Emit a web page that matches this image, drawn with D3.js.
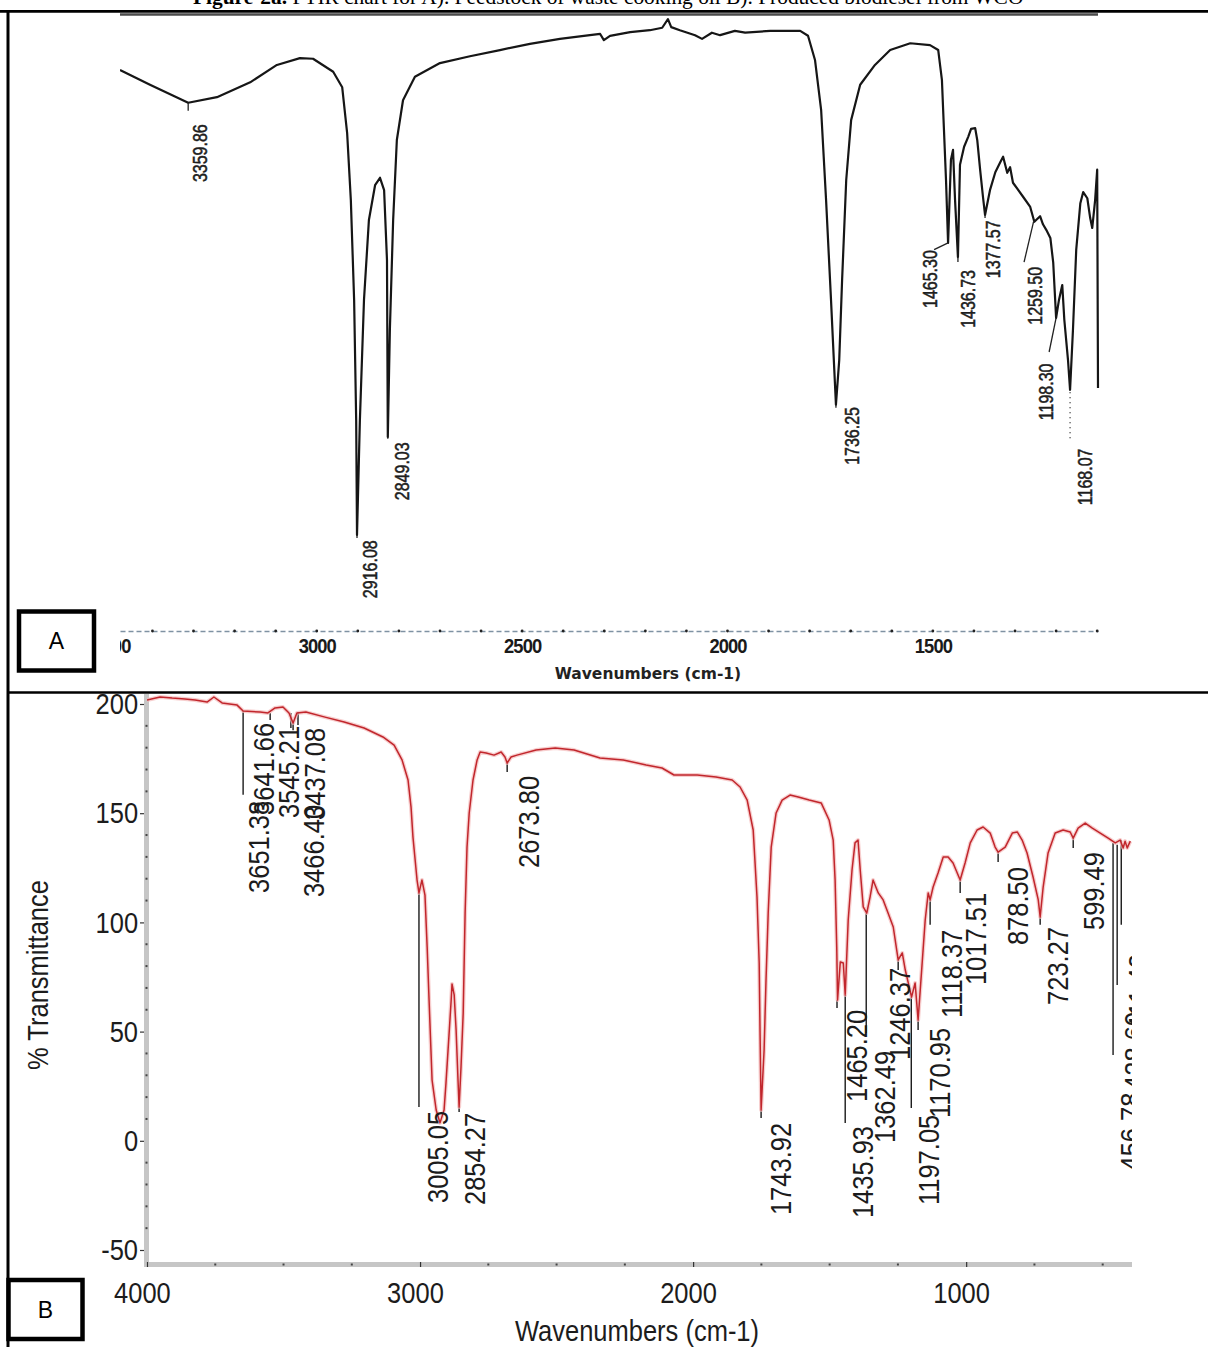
<!DOCTYPE html>
<html lang="en">
<head>
<meta charset="UTF-8">
<title>FTIR chart: feedstock WCO and biodiesel</title>
<script src="https://d3js.org/d3.v7.min.js"></script>
<style>
  body { margin: 0; background: #fff; }
  svg { display: block; }
</style>
</head>
<body>
<svg id="fig"></svg>
<script>
// ---- panel A: feedstock (waste cooking oil) ----
const waveA = [3479,3406,3313,3243,3162,3097,3041,3009,2960,2938,
  2926,2917,2909,2904,2902,2895,2885,2873,2858,2846,
  2836,2829,2827,2822,2814,2805,2790,2761,2700,2627,
  2554,2481,2408,2335,2310,2301,2286,2237,2189,2159,
  2145,2137,2116,2079,2062,2038,2018,1982,1957,1896,
  1823,1804,1787,1772,1760,1748,1740,1736,1728,1721,
  1711,1699,1677,1641,1604,1555,1507,1487,1478,1473,
  1468,1463,1456,1451,1446,1439,1434,1424,1414,1407,
  1397,1392,1385,1378,1373,1361,1348,1336,1329,1319,
  1312,1305,1280,1263,1253,1239,1232,1224,1214,1207,
  1200,1193,1185,1180,1171,1166,1159,1151,1141,1134,
  1124,1117,1112,1105,1100,1098];
const transA = [90.5,88.1,85.2,86.1,88.5,91.3,92.4,92.3,90.2,87.7,
  80.3,69.5,53.4,34.0,15.5,34.0,53.4,66.3,71.9,73.1,
  71.1,59.8,31.3,48.5,66.3,79.2,85.6,89.4,91.6,92.7,
  93.7,94.7,95.5,96.1,96.3,95.3,96.0,96.6,96.9,97.3,
  98.7,97.4,96.9,96.1,95.5,96.5,96.1,96.8,96.5,96.8,
  96.8,96.0,92.1,84.0,69.5,53.4,42.1,36.5,43.7,56.6,
  72.7,82.4,88.1,91.3,93.7,94.8,94.5,93.7,88.9,80.8,
  72.7,62.6,76.0,77.6,69.5,60.3,75.2,78.1,79.7,81.0,
  81.1,79.2,74.4,70.0,67.1,71.1,74.0,75.6,76.5,73.9,
  74.8,72.3,70.0,68.4,66.0,66.9,65.6,64.7,63.4,59.4,
  50.5,53.4,55.8,50.2,43.7,38.9,48.5,61.5,69.0,70.8,
  69.8,66.6,65.0,69.5,74.4,39.2];
const ticksA = [3500, 3000, 2500, 2000, 1500];
// label, leader from (w,T) to (w,T), text column wavenumber, text start T
const peaksA = [
  ["3359.86", 3313, 85.2, 3313, 83.9, 3284, 72.4],
  ["2916.08", 2902, 15.5, 2902, 15.0, 2870, 5.3],
  ["2849.03", 2827, 31.3, 2827, 31.0, 2792, 21.1],
  ["1736.25", 1736, 36.5, 1736, 36.0, 1697, 26.8],
  ["1465.30", 1463, 62.6, 1497, 61.5, 1507, 52.1],
  ["1436.73", 1439, 60.3, 1439, 59.5, 1414, 48.9],
  ["1377.57", 1373, 67.1, 1373, 66.6, 1353, 56.9],
  ["1259.50", 1255, 66.0, 1278, 59.5, 1251, 49.4],
  ["1198.30", 1200, 50.5, 1217, 45.0, 1224, 34.0],
  ["1168.07", 1166, 38.5, 1166, 30.5, 1129, 20.3]
];

// ---- panel B: produced biodiesel ----
const waveB = [4000,3952,3908,3861,3824,3780,3755,3725,3670,3648,
  3586,3557,3531,3502,3480,3465,3451,3418,3348,3278,
  3205,3136,3095,3066,3044,3033,3026,3011,3004,2993,
  2982,2974,2967,2956,2941,2927,2912,2905,2894,2886,
  2883,2875,2868,2861,2857,2850,2842,2835,2828,2820,
  2806,2791,2780,2758,2729,2703,2689,2681,2667,2645,
  2575,2505,2436,2341,2256,2172,2114,2070,1985,1916,
  1857,1828,1802,1780,1766,1758,1755,1751,1740,1733,
  1725,1714,1696,1674,1645,1615,1575,1531,1502,1487,
  1480,1474,1471,1461,1450,1443,1432,1418,1407,1396,
  1388,1377,1364,1352,1341,1322,1304,1286,1267,1249,
  1234,1223,1212,1200,1187,1176,1163,1150,1139,1132,
  1121,1103,1084,1066,1048,1022,1004,985,960,938,
  912,894,883,857,831,813,795,777,755,736,
  729,718,700,674,645,619,608,590,564,538,
  509,480,454,436,425,418,410,399];
const transB = [201.8,203.2,202.7,202.3,201.8,200.9,203.2,200.5,199.5,196.8,
  196.3,195.9,198.2,198.6,195.9,191.3,195.9,196.3,194.0,191.8,
  189.0,184.9,181.2,174.4,165.2,152.8,139.1,119.4,113.5,119.4,
  112.5,88.7,64.5,27.8,14.1,8.2,14.1,26.5,48.4,64.5,
  71.8,66.8,50.7,27.8,15.5,33.8,58.5,104.3,134.5,150.1,
  165.2,174.4,178.0,177.6,176.6,178.0,175.7,173.0,175.7,176.6,
  178.9,179.9,178.9,175.3,174.4,172.1,170.7,167.5,167.5,166.6,
  165.2,162.0,156.0,142.3,111.6,81.4,50.7,14.1,41.6,73.6,
  104.3,134.5,150.1,156.0,158.3,157.4,156.0,154.7,146.9,137.7,
  119.4,88.7,64.5,81.9,81.4,66.8,101.1,124.0,136.4,137.7,
  124.0,107.1,104.3,111.6,119.4,113.5,110.3,104.3,97.9,82.8,
  86.0,78.2,72.3,65.8,72.3,55.3,78.2,101.1,113.5,110.3,
  116.2,122.6,129.9,129.9,127.2,119.4,127.2,136.4,142.3,143.7,
  140.9,134.5,132.2,134.5,140.9,141.4,137.7,131.8,120.8,110.3,
  102.5,116.2,131.8,140.9,142.3,141.4,138.6,143.2,145.5,143.2,
  140.9,138.6,136.4,137.7,134.1,137.2,134.1,137.2];
const xTicksB = [4000, 3000, 2000, 1000];
const yTicksB = [-50, 0, 50, 100, 150, 200];
const peaksB = [
  ["3651.38", 3648, 196.8, 3648, 158.4, 3593, 113.5],
  ["3641.66", 3549, 195.9, 3549, 192.7, 3575, 149.2],
  ["3545.21", 3473, 195.9, 3473, 189.0, 3484, 147.8],
  ["3466.40", 3465, 191.3, 3465, 188.0, 3392, 111.6],
  ["3437.08", 3447, 196.3, 3447, 190.4, 3388, 146.9],
  ["2673.80", 2681, 173.0, 2681, 168.9, 2604, 124.9],
  ["3005.05", 3004, 113.5, 3004, 15.5, 2938, -28.5],
  ["2854.27", 2857, 15.5, 2857, 13.2, 2802, -29.4],
  ["1743.92", 1751, 14.1, 1751, 10.4, 1681, -34.0],
  ["1465.20", 1473, 64.5, 1473, 60.8, 1403, 17.8],
  ["1435.93", 1443, 66.8, 1443, 8.1, 1381, -35.4],
  ["1362.49", 1366, 104.3, 1366, 49.4, 1300, -1.0],
  ["1246.37", 1249, 82.8, 1249, 78.2, 1245, 37.0],
  ["1197.05", 1201, 65.8, 1201, 15.0, 1139, -29.4],
  ["1170.95", 1176, 55.3, 1176, 50.7, 1099, 10.4],
  ["1118.37", 1132, 110.3, 1132, 98.9, 1055, 56.2],
  ["1017.51", 1022, 119.4, 1022, 113.5, 967, 71.3],
  ["878.50", 883, 132.2, 883, 127.6, 813, 89.6],
  ["723.27", 729, 102.5, 729, 98.9, 667, 62.2],
  ["599.49", 608, 138.6, 608, 134.1, 535, 96.5],
  ["456.78", 462, 136.4, 462, 39.3, 399, -13.6],
  ["428.60", 447, 135.5, 447, 71.3, 384, 23.3],
  ["411.42", 432, 137.7, 432, 98.9, 370, 50.7]
];

const W = 1208, H = 1347;
const svg = d3.select("#fig").attr("width", W).attr("height", H);
const defs = svg.append("defs");

// caption, cut off by the page top as in the source
const cap = svg.append("text")
  .attr("x", 193).attr("y", 4)
  .style("font-family", "'Liberation Serif', 'Times New Roman', serif")
  .style("font-size", "21.4px");
cap.append("tspan").style("font-weight", "bold").text("Figure-2a.");
cap.append("tspan").text(" FTIR chart for A). Feedstock of waste cooking oil B). Produced biodiesel from WCO");

// vertical text helper (reads bottom to top)
function vText(g, x, y, txt, sx) {
  return g.append("text")
    .attr("transform", `translate(${x},${y}) rotate(-90) scale(${sx},1)`)
    .attr("dy", "0.36em")
    .text(txt);
}

// ================= panel A =================
const xA = d3.scaleLinear().domain([3479, 1098]).range([120, 1098]);
const yA = d3.scaleLinear().domain([0, 100]).range([631, 11]);

defs.append("clipPath").attr("id", "clipA")
  .append("rect").attr("x", 120).attr("y", 12).attr("width", 980).attr("height", 678);

const gA = svg.append("g").attr("clip-path", "url(#clipA)");

gA.append("line")
  .attr("x1", 120).attr("x2", 1098).attr("y1", 14.5).attr("y2", 14.5)
  .attr("stroke", "#4a4a4a").attr("stroke-width", 2.5);

const axA = gA.append("g")
  .attr("transform", "translate(0,631)")
  .call(d3.axisBottom(xA).tickValues(ticksA).tickSize(0).tickPadding(8).tickFormat(d3.format("d")));
axA.select(".domain")
  .attr("stroke", "#7f92a3").attr("stroke-width", 1.4).attr("stroke-dasharray", "5,3");
axA.selectAll("text")
  .attr("transform", "scale(0.92,1)")
  .attr("fill", "#1a1a1a")
  .style("font-family", "'Liberation Sans', Arial, sans-serif")
  .style("font-size", "20px").style("font-weight", "bold")
  .style("letter-spacing", "-1px");

gA.selectAll(".dotA")
  .data(d3.range(3400, 1099, -100))
  .join("circle")
  .attr("cx", d => xA(d)).attr("cy", 631).attr("r", 1.4)
  .attr("fill", "#222");

gA.append("text")
  .attr("x", 648).attr("y", 679)
  .attr("text-anchor", "middle")
  .attr("fill", "#222")
  .style("font-family", "'DejaVu Sans', Verdana, sans-serif")
  .style("font-size", "15.5px").style("font-weight", "bold")
  .text("Wavenumbers (cm-1)");

const lineA = d3.line().x(d => xA(d[0])).y(d => yA(d[1]));
gA.append("path")
  .datum(waveA.map((w, i) => [w, transA[i]]))
  .attr("d", lineA)
  .attr("fill", "none").attr("stroke", "#161616")
  .attr("stroke-width", 2.2).attr("stroke-linejoin", "round");

const labA = gA.append("g")
  .attr("fill", "#1e1e1e")
  .attr("stroke", "#1e1e1e").attr("stroke-width", 0.5)
  .style("font-family", "'Liberation Sans', Arial, sans-serif")
  .style("font-size", "20px");
peaksA.forEach(p => {
  gA.append("line")
    .attr("x1", xA(p[1])).attr("y1", yA(p[2]))
    .attr("x2", xA(p[3])).attr("y2", yA(p[4]))
    .attr("stroke", "#222").attr("stroke-width", 1.3)
    .attr("stroke-dasharray", p[0] === "1168.07" ? "1,4" : null);
  vText(labA, xA(p[5]), yA(p[6]), p[0], 0.8);
});

// ================= panel B =================
const xB = d3.scaleLinear().domain([4000, 400]).range([147, 1130]);
const yB = d3.scaleLinear().domain([-50, 200]).range([1250, 704]);

const fontB = "'Liberation Sans', Arial, sans-serif";

// axis bars
svg.append("line").attr("x1", 146.5).attr("x2", 146.5).attr("y1", 694).attr("y2", 1267)
  .attr("stroke", "#c6c6c6").attr("stroke-width", 5);
svg.append("line").attr("x1", 144).attr("x2", 1132).attr("y1", 1264.5).attr("y2", 1264.5)
  .attr("stroke", "#c6c6c6").attr("stroke-width", 5);

const axYB = svg.append("g")
  .attr("transform", "translate(144,0)")
  .call(d3.axisLeft(yB).tickValues(yTicksB).tickSize(4).tickPadding(3).tickFormat(d => String(d)));
axYB.select(".domain").remove();
axYB.selectAll("line").attr("stroke", "#333").attr("stroke-width", 1.2);
axYB.selectAll("text")
  .attr("transform", "scale(0.85,1)")
  .attr("fill", "#1c1c1c")
  .style("font-family", fontB).style("font-size", "30px");

const axXB = svg.append("g")
  .attr("transform", "translate(0,1262)")
  .call(d3.axisBottom(xB).tickValues(xTicksB).tickSize(5).tickPadding(15).tickFormat(d3.format("d")));
axXB.select(".domain").remove();
axXB.selectAll("line").attr("stroke", "#333").attr("stroke-width", 1.2);
axXB.selectAll("text")
  .attr("x", -6)
  .attr("transform", "scale(0.85,1)")
  .attr("fill", "#1c1c1c")
  .style("font-family", fontB).style("font-size", "30px");

// minor ticks
svg.selectAll(".minY")
  .data(d3.range(-50, 201, 10).filter(v => v % 50 !== 0))
  .join("rect")
  .attr("x", 145.5).attr("y", d => yB(d) - 1).attr("width", 2).attr("height", 2)
  .attr("fill", "#444");
svg.selectAll(".minX")
  .data(d3.range(3750, 400, -250).filter(v => v % 1000 !== 0))
  .join("rect")
  .attr("x", d => xB(d) - 1).attr("y", 1263.5).attr("width", 2).attr("height", 2)
  .attr("fill", "#444");

defs.append("clipPath").attr("id", "clipB")
  .append("rect").attr("x", 147).attr("y", 693).attr("width", 985).attr("height", 570);
const gB = svg.append("g").attr("clip-path", "url(#clipB)");

peaksB.forEach(p => {
  gB.append("line")
    .attr("x1", xB(p[1])).attr("y1", yB(p[2]))
    .attr("x2", xB(p[3])).attr("y2", yB(p[4]))
    .attr("stroke", "#1a1a1a").attr("stroke-width", 1.4);
});

const lineB = d3.line().x(d => xB(d[0])).y(d => yB(d[1]));
const specB = waveB.map((w, i) => [w, transB[i]]);
gB.append("path").datum(specB).attr("d", lineB)
  .attr("fill", "none").attr("stroke", "#f4b9b9")
  .attr("stroke-width", 4).attr("stroke-opacity", 0.7).attr("stroke-linejoin", "round");
gB.append("path").datum(specB).attr("d", lineB)
  .attr("fill", "none").attr("stroke", "#c1262c")
  .attr("stroke-width", 1.5).attr("stroke-linejoin", "round");

const labB = gB.append("g")
  .attr("fill", "#1c1c1c")
  .style("font-family", fontB).style("font-size", "30px");
peaksB.forEach(p => vText(labB, xB(p[5]), yB(p[6]), p[0], 0.85));

// axis titles
svg.append("text")
  .attr("transform", "translate(37,975) rotate(-90) scale(0.85,1)")
  .attr("dy", "0.35em").attr("text-anchor", "middle")
  .attr("fill", "#1c1c1c")
  .style("font-family", fontB).style("font-size", "30px")
  .text("% Transmittance");
svg.append("text")
  .attr("transform", "translate(637,1330) scale(0.85,1)")
  .attr("dy", "0.35em").attr("text-anchor", "middle")
  .attr("fill", "#1c1c1c")
  .style("font-family", fontB).style("font-size", "30px")
  .text("Wavenumbers (cm-1)");

// ================= table rules and panel tags =================
svg.append("line").attr("x1", 0).attr("x2", W).attr("y1", 11.3).attr("y2", 11.3)
  .attr("stroke", "#000").attr("stroke-width", 2.7);
svg.append("line").attr("x1", 8).attr("x2", 8).attr("y1", 10).attr("y2", H)
  .attr("stroke", "#000").attr("stroke-width", 3);
svg.append("line").attr("x1", 8).attr("x2", W).attr("y1", 692.5).attr("y2", 692.5)
  .attr("stroke", "#000").attr("stroke-width", 2.6);

const tags = [["A", 19, 611.5, 75, 59], ["B", 8.5, 1280, 74, 59]];
tags.forEach(t => {
  svg.append("rect")
    .attr("x", t[1]).attr("y", t[2]).attr("width", t[3]).attr("height", t[4])
    .attr("fill", "#fff").attr("stroke", "#000").attr("stroke-width", 4.5);
  svg.append("text")
    .attr("x", t[1] + t[3] / 2).attr("y", t[2] + t[4] / 2)
    .attr("dy", "0.36em").attr("text-anchor", "middle")
    .style("font-family", "'Liberation Sans', Arial, sans-serif")
    .style("font-size", "23px")
    .text(t[0]);
});
</script>
</body>
</html>
